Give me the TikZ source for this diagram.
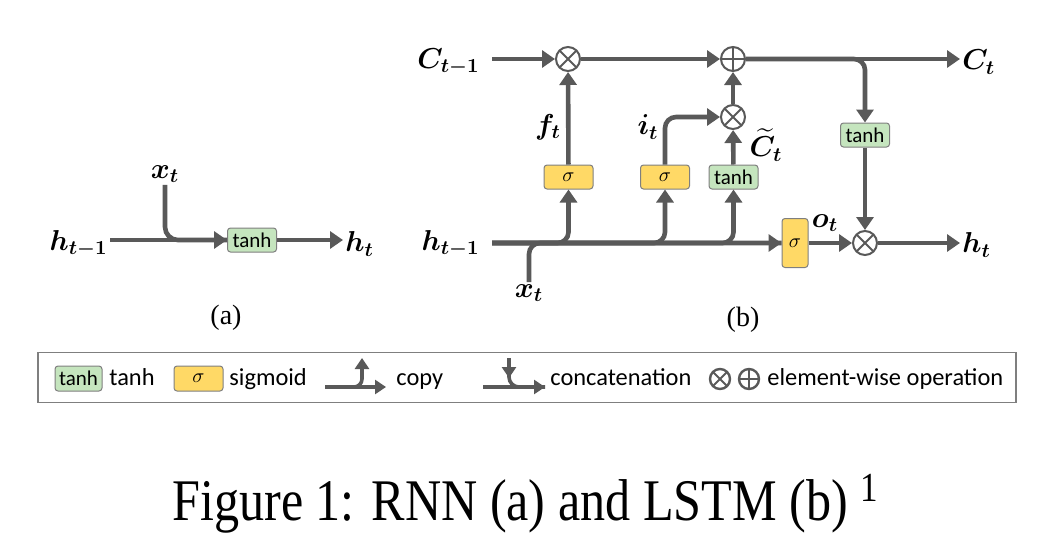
\documentclass[tikz,border=0pt]{standalone}
\usepackage{fontspec}
\usepackage{amsmath}
\usepackage{bm}
\usetikzlibrary{arrows.meta, positioning, calc}
\newfontfamily\legendfont{Carlito}
\newfontfamily\captionfont[FakeStretch=0.85]{Liberation Serif}
\newfontfamily\panelfont{Liberation Serif}
\definecolor{LineGray}{HTML}{595959}
\definecolor{BoxGray}{HTML}{7F7F7F}
\definecolor{TanhGreen}{HTML}{C5E5BE}
\definecolor{SigmaYellow}{HTML}{FFD966}

\begin{document}
\begin{tikzpicture}[
        x=0.5pt, y=-0.5pt,
        % Estilos para las cajas
        tanhbox/.style={
                rectangle,
                rounded corners=1.5pt,
                draw=BoxGray,
                line width=0.5pt,
                fill=TanhGreen,
                minimum width=24.5pt,
                minimum height=12pt,
                inner sep=0pt,
                font=\legendfont\fontsize{10.5}{12}\selectfont
            },
        sigbox/.style={
                tanhbox,
                fill=SigmaYellow,
                font=\fontsize{10}{12}\selectfont
            },
        % Operaciones
        mulop/.style={
                circle,
                draw=LineGray,
                line width=1pt,
                minimum size=12pt,
                inner sep=0pt,
                path picture={
                        \draw[line width=1pt, LineGray]
                            (path picture bounding box.north west) -- (path picture bounding box.south east)
                            (path picture bounding box.south west) -- (path picture bounding box.north east);
                    }
            },
        addop/.style={
                circle,
                draw=LineGray,
                line width=1pt,
                minimum size=12pt,
                inner sep=0pt,
                path picture={
                        \draw[line width=1pt, LineGray]
                            (path picture bounding box.north) -- (path picture bounding box.south)
                            (path picture bounding box.west) -- (path picture bounding box.east);
                    }
            },
        % Etiquetas
        vlabel/.style={
                inner sep=1pt,
                font=\fontsize{14}{16}\selectfont
            },
        legendtext/.style={
                inner sep=0pt,
                anchor=base west,
                font=\legendfont\fontsize{12.2}{14}\selectfont
            },
        % Flechas
        flow/.style={
                draw=LineGray,
                line width=2.3pt,
                rounded corners=5.5pt
            },
        arrow/.style={
                flow,
                -{Triangle[length=6.5pt, width=8.5pt]}
            },
        smallflow/.style={
                draw=LineGray,
                line width=1.8pt,
                rounded corners=4pt
            },
        smallarrow/.style={
                smallflow,
                -{Triangle[length=5.5pt, width=7pt]}
            }
    ]
    \useasboundingbox (0,0) rectangle (1038,547);

    % (a) RNN
    \node[tanhbox] (tanhA) at (252,240) {tanh};
    \node[vlabel, anchor=east] (hAprev) at (110,244) {$\bm{h_{t-1}}$};
    \node[vlabel, anchor=west] (hAnext) at (343,244) {$\bm{h_t}$};
    \node[vlabel] (xA) at (165,174) {$\bm{x_t}$};
    \node[font=\panelfont\fontsize{14}{16}\selectfont] (capa) at (226,318) {(a)};

    \draw[flow, rounded corners=6.5pt] (xA.south) |- (tanhA.west);
    \draw[arrow] (hAprev.east |- tanhA.west) -- (tanhA.west);
    \draw[arrow] (tanhA.east) -- (hAnext.west |- tanhA.east);

    % (b) LSTM
    \node[vlabel, anchor=east, inner xsep=6pt] (Cprev) at (492,62) {$\bm{C_{t-1}}$};
    \node[mulop] (mulf) at (568,59) {};
    \node[addop] (addc) at (733,59) {};
    \node[vlabel, anchor=west] (Cnext) at (960,62) {$\bm{C_t}$};
    \node[mulop] (muli) at (733,117) {};

    \node[sigbox] (sigf) at (568.5,177) {$\sigma$};
    \node[sigbox] (sigi) at (665,177) {$\sigma$};
    \node[tanhbox] (tanhc) at (733.5,177) {tanh};
    \node[tanhbox] (tanhh) at (865,135) {tanh};
    \node[sigbox, minimum width=13pt, minimum height=24.5pt] (sigo) at (795,243) {$\sigma$};
    \node[mulop] (mulo) at (865,243) {};

    \node[vlabel, anchor=east, inner xsep=6pt] (hprev) at (492,244) {$\bm{h_{t-1}}$};
    \node[vlabel, anchor=west] (hnext) at (960,245) {$\bm{h_t}$};
    \node[vlabel] (xt) at (529,293) {$\bm{x_t}$};

    \node[vlabel] (ft) at (548,127) {$\bm{f_t}$};
    \node[vlabel] (it) at (648,127) {$\bm{i_t}$};
    \node[vlabel] (ctil) at (766,145) {$\widetilde{\bm{C}}_{\bm{t}}$};
    \node[vlabel] (ot) at (825,223) {$\bm{o_t}$};
    \node[font=\panelfont\fontsize{14}{16}\selectfont] (capb) at (743,320) {(b)};

    % Flechas de la celda
    \draw[arrow] (Cprev.east |- mulf.west) -- (mulf.west);
    \draw[arrow] (mulf) -- (addc);
    \draw[arrow] (addc) -- (Cnext.west |- addc.east);
    \draw[arrow] (addc.east) -| (tanhh.north);
    \draw[arrow] (tanhh) -- (mulo);
    \draw[arrow] (sigf) -- (mulf);
    \draw[arrow] (sigi.north) |- (muli.west);
    \draw[arrow] (tanhc) -- (muli);
    \draw[arrow] (muli) -- (addc);

    \draw[flow] (xt.north) |- (sigo.west);
    \draw[arrow] (hprev.east |- sigo.west) -- (sigo.west);
    \foreach \g in {sigf, sigi, tanhc}
        \draw[arrow] (hprev.east |- sigo.west) -| (\g.south);
    \draw[arrow] (sigo) -- (mulo);
    \draw[arrow] (mulo) -- (hnext.west |- mulo.east);

    % Leyenda
    \node[draw=BoxGray, line width=0.7pt, minimum width=489pt, minimum height=24.75pt, inner sep=0pt] (legend) at (527,377.5) {};
    \node[tanhbox, minimum width=23.5pt, minimum height=12.5pt] (ltanh) at (78.5,378.5) {tanh};
    \node[legendtext] (ltanhtext) at (109,385) {tanh};
    \node[sigbox, minimum height=12.5pt] (lsig) at (198.5,378.5) {$\sigma$};
    \node[legendtext] (lsigtext) at (229,385) {sigmoid};

    \coordinate (cpstart) at (325,387);
    \coordinate (cpend) at (386,387);
    \coordinate (cpup) at (362,358);
    \draw[smallarrow] (cpstart) -- (cpend);
    \draw[smallarrow] (cpstart) -| (cpup);
    \node[legendtext] (lcopy) at (396,385) {copy};

    \coordinate (ccstart) at (483,387);
    \coordinate (ccend) at (545,387);
    \coordinate (cctop) at (509,358);
    \draw[smallarrow] (ccstart) -- (ccend);
    \draw[smallflow, rounded corners=5pt] (cctop) |- (ccend);
    \draw[smallarrow] (cctop) -- ++(0,20);
    \node[legendtext] (lconcat) at (550,385) {concatenation};

    \node[mulop, minimum size=10pt, line width=1.2pt] (lmul) at (720,379) {};
    \node[addop, minimum size=10pt, line width=1.2pt] (ladd) at (749,379) {};
    \node[legendtext] (lelem) at (767,385) {element-wise operation};

    % Pie de figura
    \node[anchor=base west, inner sep=0pt, font=\captionfont\fontsize{29.5}{34}\selectfont] (caption) at (172,520) {Figure 1: RNN (a) and LSTM (b) \textsuperscript{1}};

\end{tikzpicture}
\end{document}
